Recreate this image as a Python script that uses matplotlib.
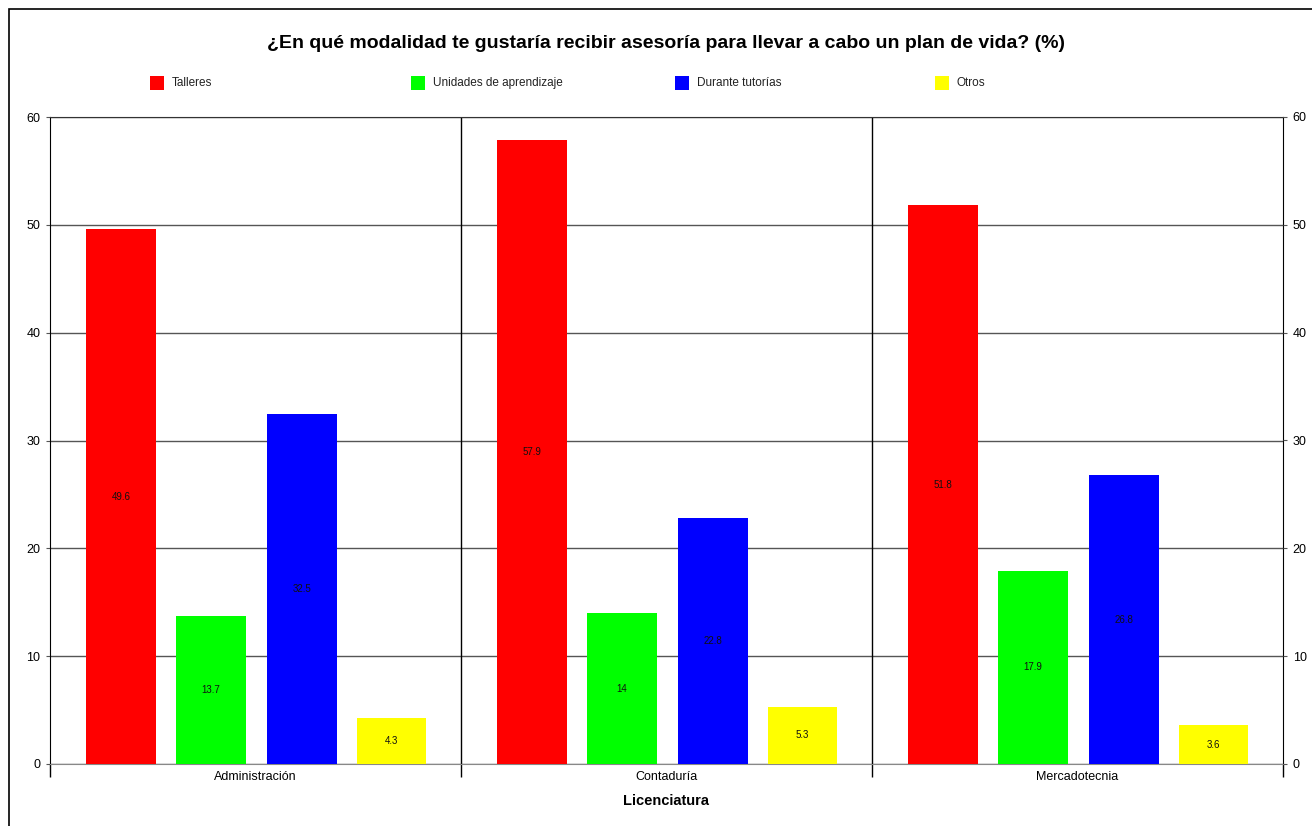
import matplotlib
matplotlib.use("Agg")
import matplotlib.pyplot as plt
from matplotlib.patches import Rectangle
import numpy as np

plt.rcParams['font.family'] = ['Liberation Sans', 'DejaVu Sans']

categories = ["Administración", "Contaduría", "Mercadotecnia"]
series_names = ["Talleres", "Unidades de aprendizaje", "Durante tutorías", "Otros"]
talleres = [49.6, 57.9, 51.8]
unidades = [13.7, 14, 17.9]
tutorias = [32.5, 22.8, 26.8]
otros = [4.3, 5.3, 3.6]
label_texts = [["49.6", "57.9", "51.8"], ["13.7", "14", "17.9"], ["32.5", "22.8", "26.8"], ["4.3", "5.3", "3.6"]]
colors = ["#ff0000", "#00ff00", "#0000ff", "#ffff00"]
yticks = [0, 10, 20, 30, 40, 50, 60]

W, H = 1312, 826
fig = plt.figure(figsize=(W / 100, H / 100), dpi=100)

# figure border
fig.add_artist(Rectangle((9 / W, -0.1), 1.2, (H - 9) / H + 0.1, transform=fig.transFigure,
                         fill=False, edgecolor="black", linewidth=1.2))

ax = fig.add_axes([50 / W, (H - 764) / H, (1283 - 50) / W, (764 - 117) / H])
x = np.arange(len(categories))
offsets = [-0.327, -0.108, 0.113, 0.331]
width = 0.17
all_series = [talleres, unidades, tutorias, otros]
for s, (vals, off, col, labs) in enumerate(zip(all_series, offsets, colors, label_texts)):
    bars = ax.bar(x + off, vals, width, color=col, zorder=3, label=series_names[s])
    for b, v, t in zip(bars, vals, labs):
        ax.text(b.get_x() + b.get_width() / 2, v / 2, t, ha="center", va="center",
                fontsize=7, color="#111111", zorder=4)

ax.set_xlim(-0.5, 2.5)
ax.set_ylim(0, 60)
ax.set_yticks(yticks)
ax.grid(axis="y", color="#555555", linewidth=1, zorder=1)
for xs in [0.5, 1.5]:
    ax.axvline(xs, color="black", linewidth=1, zorder=2)
ax.spines["top"].set_color("#333333")
ax.spines["bottom"].set_color("#888888")
ax.spines["left"].set_color("black")
ax.spines["right"].set_color("black")

ax.set_xticks(x)
ax.set_xticklabels(categories, fontsize=9)
ax.tick_params(axis="x", which="major", length=0, pad=5)
ax.set_xticks([-0.5, 0.5, 1.5, 2.5], minor=True)
ax.tick_params(axis="x", which="minor", length=9, color="black", width=1)
ax.tick_params(axis="y", length=3, labelsize=9, color="#555555", pad=4)

ax2 = ax.twinx()
ax2.set_ylim(0, 60)
ax2.set_yticks(yticks)
ax2.tick_params(axis="y", length=3, labelsize=9, color="#555555", pad=4)
for sp in ax2.spines.values():
    sp.set_visible(False)

ax.set_xlabel("Licenciatura", fontsize=10.5, fontweight="bold", labelpad=8)

fig.text(666 / W, 1 - 44 / H, "¿En qué modalidad te gustaría recibir asesoría para llevar a cabo un plan de vida? (%)",
         ha="center", va="center", fontsize=14, fontweight="bold")

# legend
leg_x = [150, 411, 675, 935]
for name, col, lx in zip(series_names, colors, leg_x):
    fig.add_artist(Rectangle((lx / W, 1 - 90 / H), 14 / W, 14 / H, transform=fig.transFigure,
                             facecolor=col, edgecolor="none"))
    fig.text((lx + 22) / W, 1 - 83 / H, name, ha="left", va="center", fontsize=8.5, color="#222222")

fig.savefig("out.png", dpi=100)
